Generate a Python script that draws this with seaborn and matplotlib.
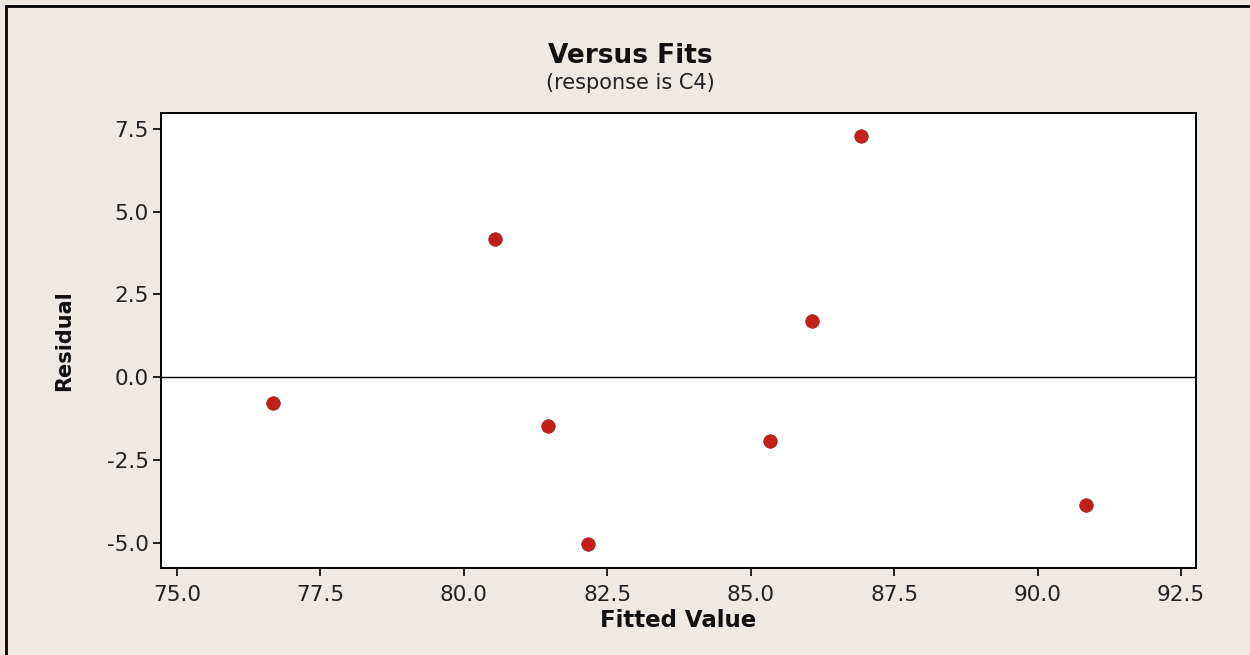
import matplotlib
matplotlib.use("Agg")
import matplotlib.pyplot as plt
import seaborn as sns
import pandas as pd
from matplotlib.lines import Line2D

fitted = [76.68, 80.54, 81.47, 82.17, 85.33, 86.07, 86.92, 90.84]
residual = [-0.77, 4.16, -1.46, -5.03, -1.92, 1.71, 7.30, -3.85]
xticks = [75.0, 77.5, 80.0, 82.5, 85.0, 87.5, 90.0, 92.5]
yticks = [-5.0, -2.5, 0.0, 2.5, 5.0, 7.5]

df = pd.DataFrame({"Fitted Value": fitted, "Residual": residual})

sns.set_theme(style="white")
plt.rcParams['font.family'] = ['DejaVu Sans']

bg = "#EEEAE1"
fig = plt.figure(figsize=(12.5, 6.55), dpi=100, facecolor=bg)
ax = fig.add_axes([161/1250, 1 - 568/655, (1196-161)/1250, (568-113)/655])
ax.set_facecolor("white")

sns.scatterplot(data=df, x="Fitted Value", y="Residual", ax=ax,
                color="#C0211B", s=95, edgecolor="#A01A14", linewidth=0.5, zorder=3)
ax.axhline(0, color="black", linewidth=1.0, zorder=2)

ax.set_xlim(74.72, 92.76)
ax.set_ylim(-5.76, 7.98)
ax.set_xticks(xticks)
ax.set_xticklabels([f"{v:.1f}" for v in xticks])
ax.set_yticks(yticks)
ax.set_yticklabels([f"{v:.1f}" for v in yticks])
ax.tick_params(axis="both", which="major", direction="out", length=6, width=1.2,
               color="black", labelsize=15.5, labelcolor="#222222", left=True, bottom=True)
ax.tick_params(axis="x", pad=6)
ax.tick_params(axis="y", pad=3)
for s in ax.spines.values():
    s.set_color("black")
    s.set_linewidth(1.4)

ax.set_xlabel("Fitted Value", fontsize=16.5, fontweight="bold", color="#111111")
ax.set_ylabel("Residual", fontsize=15, fontweight="bold", color="#111111")
ax.xaxis.set_label_coords(0.5, (568 - 609) / 455)
ax.yaxis.set_label_coords((74 - 161) / 1035, 0.5)

fig.text(630/1250, 1 - 56/655, "Versus Fits", ha="center", va="center",
         fontsize=19, fontweight="bold", color="#111111")
fig.text(630/1250, 1 - 83/655, "(response is C4)", ha="center", va="center",
         fontsize=15, color="#222222")

fig.add_artist(Line2D([6/1250, 1], [1 - 6/655, 1 - 6/655], transform=fig.transFigure,
                      color="black", linewidth=2))
fig.add_artist(Line2D([6/1250, 6/1250], [0, 1 - 6/655], transform=fig.transFigure,
                      color="black", linewidth=2))

fig.savefig("out.png", dpi=100, facecolor=bg)
